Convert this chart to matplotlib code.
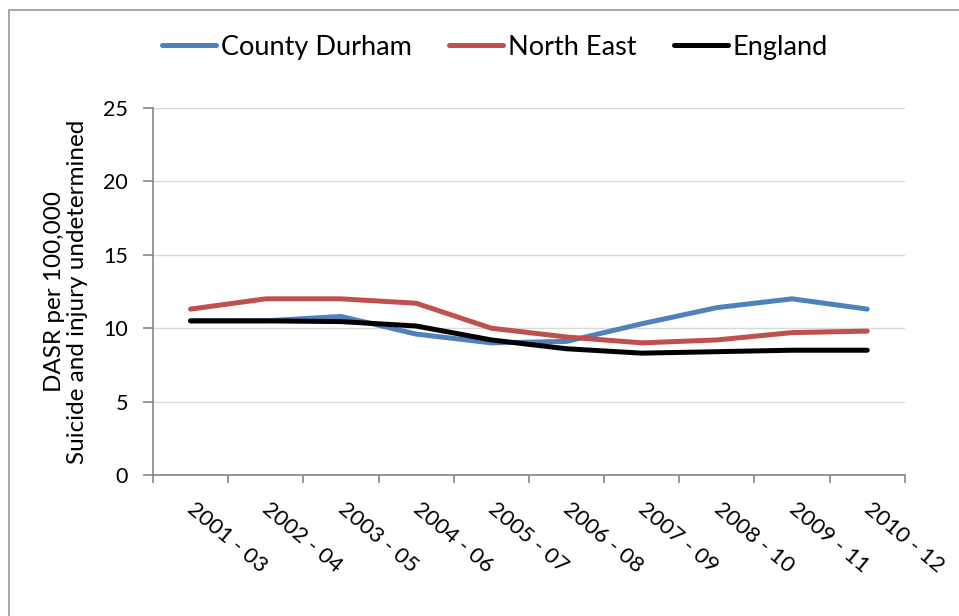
import matplotlib
matplotlib.use("Agg")
import matplotlib.pyplot as plt
import matplotlib.transforms as mtransforms
from matplotlib.patches import Rectangle
import numpy as np

periods = ["2001 - 03", "2002 - 04", "2003 - 05", "2004 - 06", "2005 - 07",
           "2006 - 08", "2007 - 09", "2008 - 10", "2009 - 11", "2010 - 12"]
county_durham = [10.5, 10.5, 10.8, 9.6, 9.0, 9.1, 10.3, 11.4, 12.0, 11.3]
north_east = [11.3, 12.0, 12.0, 11.7, 10.0, 9.4, 9.0, 9.2, 9.7, 9.8]
england = [10.5, 10.5, 10.45, 10.15, 9.2, 8.6, 8.3, 8.4, 8.5, 8.5]

plt.rcParams["font.family"] = ["Lato", "DejaVu Sans"]

fig = plt.figure(figsize=(9.59, 6.16), dpi=100)
ax = fig.add_axes([0.1595, 0.2289, 0.784, 0.5958])

# outer chart frame (only left and top edges fall inside the image)
fig.patches.append(Rectangle((9 / 959, -0.01), 1.2, 1.002 - 5 / 616, transform=fig.transFigure,
                             fill=False, edgecolor="#a0a0a0", linewidth=1.3))

x = np.arange(len(periods))
ax.plot(x, county_durham, color="#4f81bd", lw=3.6, label="County Durham", solid_capstyle="round")
ax.plot(x, north_east, color="#c0504d", lw=3.6, label="North East", solid_capstyle="round")
ax.plot(x, england, color="#000000", lw=3.6, label="England", solid_capstyle="round")

ax.set_xlim(-0.5, len(periods) - 0.5)
ax.set_ylim(0, 25)
ax.set_yticks(np.arange(0, 26, 5))
ax.yaxis.grid(True, color="#d9d9d9", lw=1)
ax.set_axisbelow(True)

ax.set_xticks(np.arange(-0.5, len(periods), 1.0))
ax.set_xticklabels([])
ax.set_xticks(x, minor=True)
ax.set_xticklabels(periods, minor=True, rotation=-40, ha="left", va="top",
                   rotation_mode="anchor", fontsize=16)
ax.tick_params(axis="x", which="minor", length=0, pad=17)
ax.tick_params(axis="x", which="major", length=6, color="#868686", width=1.2)
ax.tick_params(axis="y", length=7, color="#868686", width=1.2, labelsize=15.5, pad=11)

# nudge the slanted category labels to the right
shift = mtransforms.ScaledTranslation(6 / 100, 0, fig.dpi_scale_trans)
for lbl in ax.get_xticklabels(minor=True):
    lbl.set_transform(lbl.get_transform() + shift)

for s in ["top", "right"]:
    ax.spines[s].set_visible(False)
for s in ["left", "bottom"]:
    ax.spines[s].set_color("#868686")
    ax.spines[s].set_linewidth(1.2)

ax.set_ylabel("DASR per 100,000\nSuicide and injury undetermined", fontsize=17.5,
              linespacing=1.1, labelpad=11)

fig.legend(loc="center", bbox_to_anchor=(0.516, 0.923), ncol=3, frameon=False,
           fontsize=19.5, handlelength=2.0, handletextpad=0.15, columnspacing=1.4)

fig.savefig("out.png", dpi=100)
